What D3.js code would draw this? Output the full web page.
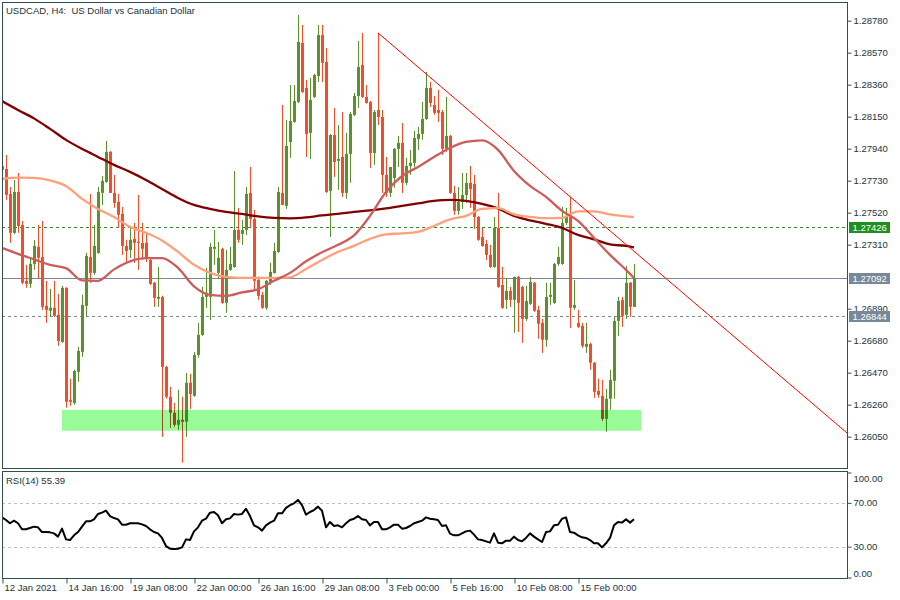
<!DOCTYPE html>
<html><head><meta charset="utf-8">
<script src="https://cdn.jsdelivr.net/npm/d3@7"></script>
<style>
body{margin:0;background:#fff}
svg{display:block}
text{font-family:"Liberation Sans",Arial,sans-serif;font-size:9.5px;fill:#23323c}
</style>
</head><body>
<svg id="c" width="900" height="600"></svg>
<script>
const chartTitle = "USDCAD, H4:  US Dollar vs Canadian Dollar";
const candleOpen = [1.27827,1.27807,1.27643,1.27388,1.27656,1.27440,1.27073,1.27053,1.27184,1.27296,
1.27230,1.26909,1.26876,1.26896,1.26850,1.26672,1.27027,1.26292,1.26272,1.26476,
1.26607,1.26909,1.27230,1.27125,1.27256,1.27650,1.27722,1.27919,1.27650,1.27591,
1.27512,1.27302,1.27276,1.27348,1.27330,1.27322,1.27322,1.27210,1.27060,1.26955,
1.26968,1.26508,1.26312,1.26207,1.26128,1.26161,1.26148,1.26404,1.26318,1.26587,
1.26718,1.26968,1.26968,1.27283,1.27125,1.27283,1.26928,1.27145,1.27164,1.27407,
1.27381,1.27407,1.27650,1.27479,1.27079,1.26981,1.26896,1.27066,1.27125,1.27263,
1.27650,1.27565,1.27984,1.28116,1.28247,1.28634,1.28339,1.28044,1.28280,1.28417,
1.28686,1.28509,1.27663,1.28030,1.27860,1.27886,1.27650,1.27906,1.28162,1.28286,
1.28490,1.28280,1.28247,1.27912,1.28194,1.28148,1.27768,1.27650,1.27748,1.27939,
1.27978,1.27716,1.27827,1.27847,1.28004,1.28037,1.28135,1.28339,1.28227,1.28194,
1.28181,1.27939,1.28024,1.27650,1.27532,1.27591,1.27637,1.27716,1.27709,1.27492,
1.27361,1.27315,1.27243,1.27164,1.27420,1.27046,1.26948,1.27007,1.26948,1.27099,
1.27033,1.26823,1.26922,1.27060,1.26882,1.26797,1.26686,1.26968,1.26928,1.27184,
1.27184,1.27453,1.27492,1.26896,1.26797,1.26778,1.26640,1.26659,1.26535,1.26351,
1.26318,1.26167,1.26299,1.26417,1.26810,1.26948,1.26850,1.27060,1.26902];
const candleHigh = [1.27866,1.27899,1.27689,1.27735,1.27781,1.27466,1.27178,1.27224,1.27342,1.27440,
1.27466,1.27073,1.27020,1.27073,1.26987,1.27040,1.27030,1.26430,1.26489,1.26640,
1.26981,1.27256,1.27643,1.27440,1.27689,1.27761,1.27991,1.27925,1.27768,1.27643,
1.27558,1.27342,1.27427,1.27453,1.27637,1.27453,1.27388,1.27217,1.27066,1.27164,
1.26975,1.26515,1.26377,1.26272,1.26358,1.26312,1.26469,1.26463,1.26607,1.26797,
1.27033,1.27158,1.27322,1.27407,1.27328,1.27290,1.27276,1.27296,1.27794,1.27552,
1.27473,1.27689,1.27820,1.27538,1.27099,1.27000,1.27079,1.27191,1.27322,1.27689,
1.28227,1.28129,1.28358,1.28358,1.28818,1.28752,1.28391,1.28404,1.28431,1.28752,
1.28752,1.28601,1.28036,1.28208,1.28096,1.28181,1.28044,1.28181,1.28306,1.28647,
1.28700,1.28358,1.28253,1.28194,1.28700,1.28194,1.27886,1.27820,1.27945,1.28024,
1.28109,1.27880,1.27932,1.28057,1.28083,1.28247,1.28444,1.28378,1.28286,1.28326,
1.28194,1.28280,1.28030,1.27696,1.27689,1.27781,1.27781,1.27827,1.27768,1.27498,
1.27420,1.27342,1.27309,1.27492,1.27650,1.27164,1.27086,1.27033,1.27099,1.27105,
1.27040,1.27040,1.27099,1.27066,1.26909,1.26823,1.27060,1.27060,1.27191,1.27296,
1.27558,1.27552,1.27624,1.27079,1.26882,1.26797,1.26797,1.26666,1.26541,1.26430,
1.26423,1.26364,1.26489,1.26836,1.26968,1.26968,1.27171,1.27066,1.27184];
const candleLow = [1.27768,1.27604,1.27322,1.27380,1.27388,1.27050,1.27027,1.27027,1.27145,1.27086,
1.26882,1.26797,1.26836,1.26836,1.26646,1.26665,1.26240,1.26253,1.26260,1.26410,
1.26574,1.26836,1.27060,1.27112,1.27250,1.27571,1.27716,1.27650,1.27552,1.27420,
1.27243,1.27191,1.27224,1.27191,1.27145,1.27210,1.27197,1.27046,1.26902,1.26902,
1.26049,1.26299,1.26108,1.26115,1.26095,1.25879,1.26049,1.26233,1.26312,1.26568,
1.26712,1.26896,1.26817,1.27178,1.27086,1.26922,1.26863,1.27138,1.27158,1.27322,
1.27309,1.27374,1.27427,1.27014,1.26948,1.26890,1.26882,1.27046,1.27120,1.27256,
1.27571,1.27545,1.27880,1.28110,1.28240,1.28306,1.27886,1.27873,1.28273,1.28378,
1.28378,1.27650,1.27361,1.27755,1.27670,1.27624,1.27611,1.27716,1.28155,1.28208,
1.28273,1.28236,1.27814,1.27834,1.28096,1.27650,1.27624,1.27624,1.27683,1.27820,
1.27650,1.27702,1.27768,1.27820,1.27932,1.27998,1.28129,1.28214,1.28162,1.28116,
1.27899,1.27919,1.27645,1.27506,1.27506,1.27545,1.27584,1.27552,1.27414,1.27336,
1.27296,1.27210,1.27158,1.27158,1.27027,1.26890,1.26889,1.26902,1.26732,1.26738,
1.26666,1.26810,1.26915,1.26869,1.26692,1.26600,1.26640,1.26915,1.26922,1.27171,
1.27178,1.27440,1.26764,1.26882,1.26764,1.26633,1.26600,1.26489,1.26305,1.26305,
1.26154,1.26082,1.26226,1.26299,1.26712,1.26771,1.26823,1.26836,1.26902];
const candleClose = [1.27801,1.27637,1.27388,1.27656,1.27433,1.27060,1.27053,1.27184,1.27302,1.27224,
1.26902,1.26882,1.26896,1.26843,1.26679,1.27027,1.26279,1.26279,1.26482,1.26613,
1.26915,1.27237,1.27125,1.27302,1.27656,1.27729,1.27919,1.27650,1.27584,1.27506,
1.27302,1.27269,1.27342,1.27322,1.27322,1.27283,1.27217,1.27053,1.26961,1.26968,
1.26508,1.26312,1.26207,1.26128,1.26161,1.26148,1.26404,1.26331,1.26587,1.26718,
1.26968,1.26994,1.27296,1.27296,1.27224,1.26928,1.27145,1.27184,1.27407,1.27342,
1.27407,1.27643,1.27479,1.27073,1.26974,1.26896,1.27073,1.27132,1.27269,1.27656,
1.27571,1.27958,1.28122,1.28253,1.28640,1.28312,1.28037,1.28260,1.28424,1.28686,
1.28503,1.27656,1.28030,1.27853,1.27873,1.27650,1.27906,1.28168,1.28286,1.28476,
1.28280,1.28240,1.27912,1.28181,1.28148,1.27768,1.27650,1.27820,1.27939,1.27978,
1.27716,1.27827,1.27847,1.28011,1.28037,1.28135,1.28339,1.28240,1.28175,1.28175,
1.27939,1.28024,1.27650,1.27532,1.27591,1.27637,1.27716,1.27676,1.27492,1.27342,
1.27302,1.27243,1.27164,1.27420,1.27033,1.26896,1.27007,1.26948,1.27099,1.26928,
1.26823,1.26941,1.27066,1.26876,1.26791,1.26686,1.26968,1.26981,1.27184,1.27230,
1.27453,1.27492,1.26896,1.26915,1.26771,1.26646,1.26659,1.26535,1.26344,1.26325,
1.26167,1.26299,1.26423,1.26810,1.26941,1.26843,1.27060,1.26902,1.27092];
const rsiValues = [57.2,54.8,51.8,54.2,51.8,46.3,46.3,47.5,48.7,48.1,
43.8,43.8,43.5,42.6,39.6,46.9,37.1,36.5,40.8,43.8,
48.7,53.6,53.6,55.4,60.3,61.5,63.3,58.4,56.6,55.4,
50.5,50.5,51.8,51.8,51.8,50.8,49.3,46.3,43.8,42.6,
38.4,31.0,28.6,28.3,28.6,29.8,37.1,36.5,44.4,48.1,
54.2,56.0,61.5,62.1,59.1,51.8,55.4,56.3,60.3,59.7,
60.3,65.1,58.4,49.9,48.1,45.1,49.9,52.4,54.2,60.9,
60.9,65.8,68.3,70.0,73.1,68.3,59.7,62.1,63.9,67.0,
63.3,48.1,53.0,49.3,49.9,48.1,51.8,54.8,56.0,58.4,
55.4,54.8,49.9,53.0,53.0,46.3,46.3,48.1,50.5,50.5,
46.9,47.5,49.3,51.8,53.0,54.2,57.2,56.0,55.4,54.8,
49.3,49.9,42.3,40.8,40.8,42.6,44.4,45.1,41.4,37.1,
36.5,35.3,34.1,42.6,34.1,33.5,35.9,35.9,39.6,36.5,
35.3,38.4,42.6,39.6,37.1,34.7,43.8,44.4,49.9,50.5,
56.0,57.2,43.8,43.2,40.8,39.0,38.4,36.5,33.5,33.5,
29.8,33.5,38.4,49.9,53.0,52.4,55.4,52.4,55.39];
const rsiTitle = "RSI(14) 55.39";
const maIdx = [0,4,8,12,16,20,24,28,32,36,40,44,48,52,56,60,64,68,72,76,80,84,88,92,96,100,104,108,112,116,120,124,128,132,136,140,144,148,152,156,158];
const maSlow = [1.28253,1.28194,1.28139,1.28070,1.27998,1.27939,1.27886,1.27834,1.27788,1.27735,1.27676,1.27617,1.27571,1.27545,1.27525,1.27512,1.27496,1.27486,1.27483,1.27489,1.27502,1.27512,1.27525,1.27535,1.27548,1.27565,1.27581,1.27597,1.27604,1.27597,1.27578,1.27548,1.27499,1.27470,1.27447,1.27420,1.27374,1.27345,1.27312,1.27302,1.27292];
const maMid = [1.27742,1.27750,1.27748,1.27732,1.27696,1.27611,1.27545,1.27492,1.27427,1.27388,1.27338,1.27263,1.27178,1.27125,1.27099,1.27092,1.27092,1.27092,1.27096,1.27151,1.27210,1.27263,1.27302,1.27348,1.27378,1.27384,1.27394,1.27433,1.27476,1.27499,1.27545,1.27550,1.27509,1.27492,1.27484,1.27486,1.27529,1.27529,1.27509,1.27496,1.27491];
const maFast = [1.27289,1.27250,1.27214,1.27178,1.27156,1.27076,1.27073,1.27148,1.27201,1.27222,1.27222,1.27158,1.27037,1.26981,1.26974,1.26997,1.27017,1.27073,1.27125,1.27201,1.27260,1.27309,1.27371,1.27499,1.27656,1.27761,1.27820,1.27886,1.27945,1.27984,1.27994,1.27932,1.27794,1.27696,1.27624,1.27532,1.27466,1.27355,1.27243,1.27145,1.27092];
const trendIdx = [94, 212];
const trendPrice = [1.28700, 1.26058];
const zoneIdx = [15, 159.75];
const zonePrice = [1.26226, 1.26089];
const levelPrices = [1.27426, 1.27092, 1.26844];
const levelColors = ["#2e8b2e", "#778899", "#778899"];
const levelBoxColors = ["#1f8f1f", "#778899", "#778899"];
const levelDashed = [true, false, true];
// 1.27100 is fully hidden behind the 1.27092 price box in the reference
const priceTicks = [1.28780,1.28570,1.28360,1.28150,1.27940,1.27730,1.27520,1.27310,1.26890,1.26680,1.26470,1.26260,1.26050];
const rsiTicks = [100, 70, 30, 0];
const rsiLevels = [70, 30];
const dateTickIdx = [0,16,32,48,64,80,96,112,128,144];
const dateTickLabels = ["12 Jan 2021","14 Jan 16:00","19 Jan 08:00","22 Jan 00:00","26 Jan 16:00","29 Jan 08:00","3 Feb 00:00","5 Feb 16:00","10 Feb 08:00","15 Feb 00:00"];

const svg = d3.select("#c");
const L = 2, R = 847, T = 2, B = 468, RT = 471, RB = 578;
const x = d3.scaleLinear().domain([0, 211.25]).range([L, R]);
const y = d3.scaleLinear().domain([1.2605, 1.2878]).range([436.7, 20.7]);
const yr = d3.scaleLinear().domain([0, 100]).range([580, 470.5]);
const bull = "#5a912d", bear = "#f04e2a", frame = "#2f4f4f";

const defs = svg.append("defs");
defs.append("clipPath").attr("id", "cm").append("rect").attr("x", L + 1).attr("y", T + 1).attr("width", R - L - 1).attr("height", B - T - 1);
defs.append("clipPath").attr("id", "cr").append("rect").attr("x", L + 1).attr("y", RT + 1).attr("width", R - L - 1).attr("height", RB - RT - 1);

const main = svg.append("g").attr("clip-path", "url(#cm)");

levelPrices.forEach((p, i) => {
  main.append("line").attr("x1", L).attr("x2", R)
    .attr("y1", Math.round(y(p)) + 0.5).attr("y2", Math.round(y(p)) + 0.5)
    .attr("stroke", levelColors[i]).attr("stroke-width", 1)
    .attr("stroke-dasharray", levelDashed[i] ? "3,3" : null);
});

const idx = d3.range(candleOpen.length);
const cg = main.append("g");
idx.forEach(i => {
  const cx = Math.round(x(i));
  const up = candleClose[i] >= candleOpen[i];
  const col = up ? bull : bear;
  cg.append("line").attr("x1", cx + 0.5).attr("x2", cx + 0.5)
    .attr("y1", y(candleHigh[i])).attr("y2", y(candleLow[i]))
    .attr("stroke", col).attr("stroke-width", 1);
  const y0 = Math.min(y(candleOpen[i]), y(candleClose[i]));
  const h = Math.max(1, Math.abs(y(candleOpen[i]) - y(candleClose[i])));
  cg.append("rect").attr("x", cx - 1).attr("width", 3).attr("y", y0).attr("height", h).attr("fill", col);
});

main.append("rect")
  .attr("x", x(zoneIdx[0])).attr("width", x(zoneIdx[1]) - x(zoneIdx[0]))
  .attr("y", y(zonePrice[0])).attr("height", y(zonePrice[1]) - y(zonePrice[0]))
  .attr("fill", "#98fb98").style("mix-blend-mode", "multiply");

const maLine = d3.line().x((d, i) => x(maIdx[i])).y(d => y(d)).curve(d3.curveMonotoneX);
[[maSlow, "#800000"], [maMid, "#ffa07a"], [maFast, "#cd5c5c"]].forEach(([arr, col]) => {
  main.append("path").attr("d", maLine(arr)).attr("fill", "none").attr("stroke", col).attr("stroke-width", 2.3);
});

main.append("line")
  .attr("x1", x(trendIdx[0])).attr("y1", y(trendPrice[0]))
  .attr("x2", x(trendIdx[1])).attr("y2", y(trendPrice[1]))
  .attr("stroke", "#ff0000").attr("stroke-width", 1);

svg.append("text").attr("x", 6).attr("y", 13.5).attr("xml:space", "preserve").style("white-space", "pre").text(chartTitle);

svg.append("rect").attr("x", L + 0.5).attr("y", T + 0.5).attr("width", R - L).attr("height", B - T).attr("fill", "none").attr("stroke", frame);
svg.append("rect").attr("x", L + 0.5).attr("y", RT + 0.5).attr("width", R - L).attr("height", RB - RT).attr("fill", "none").attr("stroke", frame);

// price axis; labels partly hidden by a level box are clipped above the box
const boxTops = levelPrices.map(p => Math.round(y(p)) - 5);
const pa = svg.append("g").attr("transform", `translate(${R + 0.5},0)`)
  .call(d3.axisRight(y).tickValues(priceTicks).tickFormat(d3.format(".5f")).tickSize(4).tickPadding(2));
pa.select(".domain").remove();
pa.selectAll(".tick line").attr("stroke", frame);
pa.selectAll(".tick text").attr("font-family", null).attr("font-size", null).attr("fill", null);
pa.selectAll(".tick").each(function(d) {
  const yy = y(d);
  const hit = boxTops.find(t => yy < t + 11 && yy + 6 > t);
  if (hit !== undefined) {
    const id = "clipTick" + Math.round(yy);
    defs.append("clipPath").attr("id", id).append("rect").attr("x", 0).attr("y", -20).attr("width", 60).attr("height", hit - yy + 20);
    d3.select(this).select("text").attr("clip-path", `url(#${id})`);
  }
});

levelPrices.forEach((p, i) => {
  const yy = Math.round(y(p));
  svg.append("rect").attr("x", 849).attr("y", yy - 5).attr("width", 41).attr("height", 11).attr("fill", levelBoxColors[i]);
  svg.append("text").attr("x", 852.5).attr("y", yy + 4).style("fill", "#fff").text(d3.format(".5f")(p));
});

const rg = svg.append("g").attr("clip-path", "url(#cr)");
rsiLevels.forEach(v => {
  rg.append("line").attr("x1", L).attr("x2", R).attr("y1", Math.round(yr(v)) + 0.5).attr("y2", Math.round(yr(v)) + 0.5)
    .attr("stroke", "#c0c0c0").attr("stroke-dasharray", "3,3");
});
rg.append("path").attr("d", d3.line().x((d, i) => x(i)).y(d => yr(d))(rsiValues))
  .attr("fill", "none").attr("stroke", "#000").attr("stroke-width", 2).attr("stroke-linejoin", "round");
svg.append("text").attr("x", 6).attr("y", 484).text(rsiTitle);

const ra = svg.append("g").attr("transform", `translate(${R + 0.5},0)`)
  .call(d3.axisRight(yr).tickValues(rsiTicks).tickFormat(d3.format(".2f")).tickSize(4).tickPadding(2));
ra.select(".domain").remove();
ra.selectAll(".tick").attr("transform", d => `translate(0,${Math.min(RB, Math.max(RT + 2, yr(d)))})`);
ra.selectAll(".tick line").attr("stroke", frame);
ra.selectAll(".tick text").attr("font-family", null).attr("font-size", null).attr("fill", null)
  .attr("dy", d => d === 100 ? "0.9em" : d === 0 ? "-0.1em" : "0.32em");

const da = svg.append("g").attr("transform", `translate(0,${RB + 0.5})`)
  .call(d3.axisBottom(x).tickValues(dateTickIdx).tickFormat((d, i) => dateTickLabels[i]).tickSize(5).tickPadding(2));
da.select(".domain").remove();
da.selectAll(".tick line").attr("stroke", frame).attr("transform", "translate(0.5,0)");
da.selectAll(".tick text").attr("font-family", null).attr("font-size", null).attr("fill", null)
  .attr("text-anchor", "start").attr("x", 2).attr("y", 6).attr("dy", "0.71em");
</script>
</body></html>
